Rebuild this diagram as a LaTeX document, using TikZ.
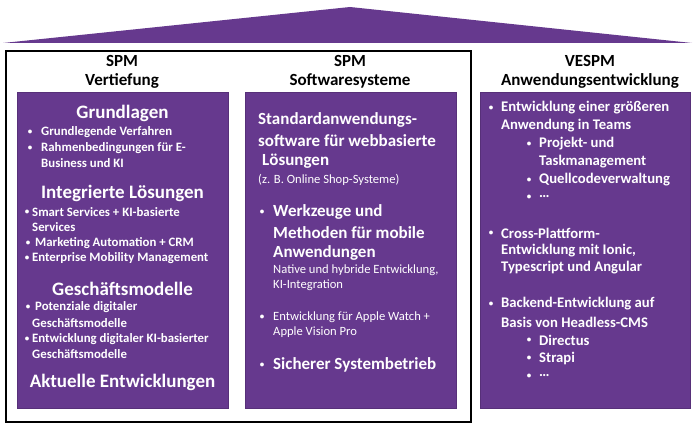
\documentclass[tikz,border=0pt]{standalone}
\usepackage{fontspec}
\setmainfont{Carlito}
\definecolor{lila}{RGB}{102,57,142}

\begin{document}
\begin{tikzpicture}[x=1pt, y=-1pt,
		dach/.style={fill=lila},
		rahmen/.style={draw=black, line width=1.5pt},
		saeule/.style={fill=lila, draw=lila!85!black, line width=0.6pt},
		kopf/.style={font=\fontsize{17}{20}\selectfont\bfseries, inner sep=0pt},
		titel/.style={font=\fontsize{19}{22}\selectfont\bfseries, text=white, inner sep=0pt},
		klein/.style={font=\fontsize{12.8}{15}\selectfont\bfseries, text=white, inner sep=0pt, anchor=west},
		gross/.style={font=\fontsize{17}{20}\selectfont\bfseries, text=white, inner sep=0pt, anchor=west},
		normal/.style={font=\fontsize{12.6}{15}\selectfont, text=white, inner sep=0pt, anchor=west},
		mittel/.style={font=\fontsize{14.7}{18}\selectfont\bfseries, text=white, inner sep=0pt, anchor=west},
		punkt/.style={font=\fontsize{9}{10}\selectfont\bfseries, text=white, inner sep=0pt}]
		\useasboundingbox (0,0) rectangle (700,430);
		% Dach und Rahmen
		\fill[dach] (3,43) -- (350,7) -- (692,43) -- cycle;
		\draw[rahmen] (6,51) rectangle (471,422);
		\foreach \a/\b in {17/228, 245/456, 480/690}
			\filldraw[saeule] (\a,92) rectangle (\b,408.5);
		% Ueberschriften
		\node[kopf] (k1a) at (122,61) {SPM};
		\node[kopf] (k1b) at (122,81) {Vertiefung};
		\node[kopf] (k2a) at (350,61) {SPM};
		\node[kopf] (k2b) at (350,81) {Softwaresysteme};
		\node[kopf] (k3a) at (590,61) {VESPM};
		\node[kopf] (k3b) at (590,81) {Anwendungsentwicklung};
		% Vertiefung
		\foreach \y/\t in {113/Grundlagen, 193/{Integrierte Lösungen}, 289/Geschäftsmodelle, 382/{Aktuelle Entwicklungen}}
			\node[titel] (a\y) at (122.5,\y) {\t};
		\foreach \bx/\tx/\y/\t in {30/41/132/{Grundlegende Verfahren}, 30/41/148/{Rahmenbedingungen für E-}, 27/32/212/{Smart Services + KI-basierte}, 28/35/243/{Marketing Automation + CRM}, 27/32/258/{Enterprise Mobility Management}, 28/35/307/{Potenziale digitaler}, 27/32/339/{Entwicklung digitaler KI-basierter}}
		{
			\node[punkt] (ap\y) at (\bx,\y) {•};
			\node[klein] (a\y) at (\tx,\y) {\t};
		}
		\foreach \tx/\y/\t in {41/163/{Business und KI}, 32/227/Services, 32/323/Geschäftsmodelle, 32/354/Geschäftsmodelle}
			\node[klein] (a\y) at (\tx,\y) {\t};
		% Softwaresysteme
		\foreach \tx/\y/\t in {258/120/{Standardanwendungs-}, 258/141/{software für webbasierte}, 262/161/{Lösungen}, 273/233/{Methoden für mobile}, 273/253/Anwendungen}
			\node[gross] (b\y) at (\tx,\y) {\t};
		\foreach \tx/\y/\t in {258/180/{(z. B. Online Shop-Systeme)}, 273/270/{Native und hybride Entwicklung,}, 273/285/{KI-Integration}, 273/332/{Apple Vision Pro}}
			\node[normal] (b\y) at (\tx,\y) {\t};
		\foreach \y in {212, 317, 365}
			\node[punkt] (bp\y) at (262,\y) {•};
		\node[gross] (b212) at (273,212) {Werkzeuge und};
		\node[normal] (b317) at (273,317) {Entwicklung für Apple Watch +};
		\node[gross] (b365) at (273,365) {Sicherer Systembetrieb};
		% Anwendungsentwicklung
		\foreach \y/\t in {108/{Entwicklung einer größeren}, 233/{Cross-Plattform-}, 304/{Backend-Entwicklung auf}}
		{
			\node[punkt] (cp\y) at (491,\y) {•};
			\node[mittel] (c\y) at (501,\y) {\t};
		}
		\foreach \y/\t in {126/{Anwendung in Teams}, 251/{Entwicklung mit Ionic,}, 268/{Typescript und Angular}, 322/{Basis von Headless-CMS}}
			\node[mittel] (c\y) at (501,\y) {\t};
		\foreach \y/\t in {144/{Projekt- und}, 180/Quellcodeverwaltung, 197/…, 340/Directus, 358/Strapi, 376/…}
		{
			\node[punkt] (cp\y) at (529,\y) {•};
			\node[mittel] (c\y) at (539,\y) {\t};
		}
		\node[mittel] (c162) at (539,162) {Taskmanagement};
	\end{tikzpicture}
\end{document}
